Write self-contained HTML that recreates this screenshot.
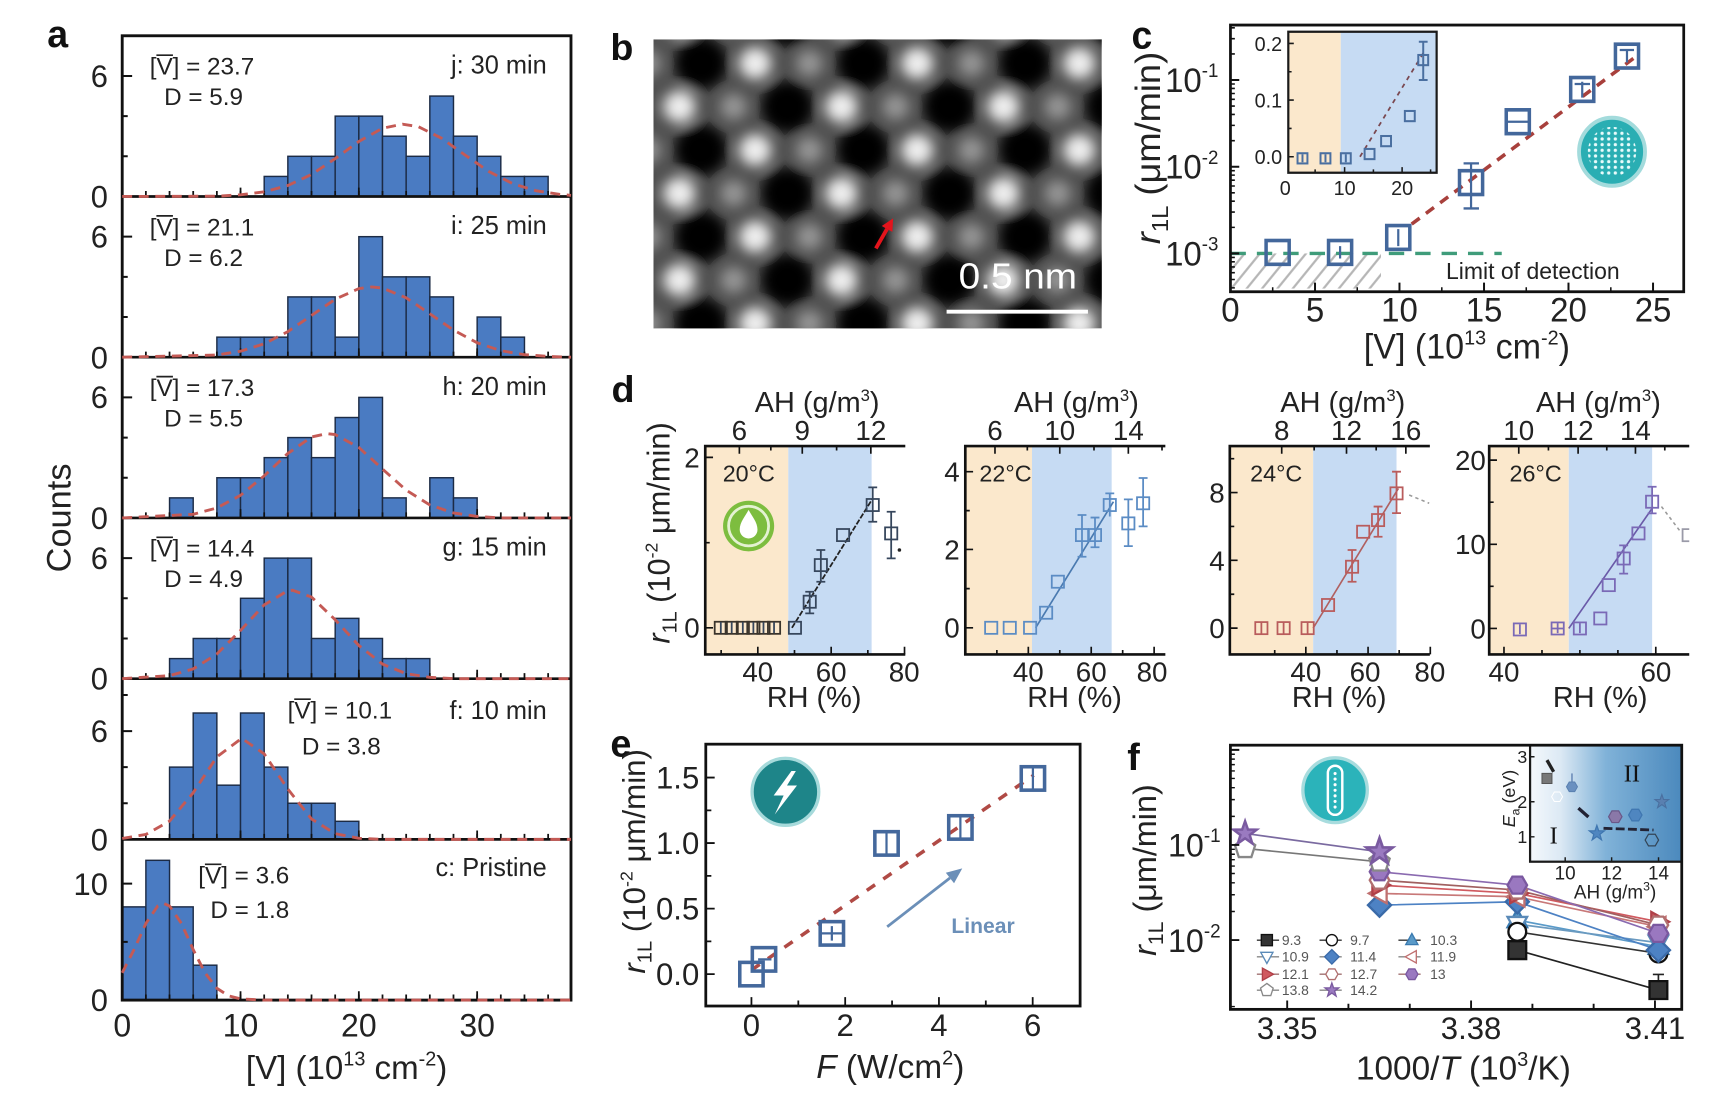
<!DOCTYPE html>
<html><head><meta charset="utf-8"><title>figure</title>
<style>html,body{margin:0;padding:0;background:#fff;overflow:hidden}svg{display:block}</style>
</head><body>
<svg xmlns="http://www.w3.org/2000/svg" width="1730" height="1114" viewBox="0 0 1550 998" font-family="'Liberation Sans', Arial, sans-serif" fill="#1a1a1a">
<defs>
<clipPath id="cb"><rect x="592" y="35" width="405" height="263"/></clipPath>
<clipPath id="cd4"><rect x="1341" y="403" width="180" height="190"/></clipPath>
<filter id="blr" x="-5%" y="-5%" width="110%" height="110%"><feGaussianBlur stdDeviation="6"/></filter>
<pattern id="hatch" patternUnits="userSpaceOnUse" width="10.7" height="10.7" patternTransform="rotate(40)"><line x1="2" y1="0" x2="2" y2="10.7" stroke="#b5b5b5" stroke-width="2"/></pattern>
<pattern id="dots" patternUnits="userSpaceOnUse" width="6" height="5" x="1452" y="110"><circle cx="3" cy="2.5" r="1.5" fill="#e8fbfb"/></pattern>
<linearGradient id="gf" x1="0" y1="0" x2="1" y2="0"><stop offset="0" stop-color="#f4f8fc"/><stop offset="0.2" stop-color="#dce9f4"/><stop offset="0.5" stop-color="#80b2d8"/><stop offset="1" stop-color="#4b89bd"/></linearGradient>
<path id="m_sq" d="M-5,-5h10v10h-10z"/>
<circle id="m_ci" r="5"/>
<path id="m_tu" d="M0,-6L5.5,4H-5.5Z"/>
<path id="m_td" d="M0,6L5.5,-4H-5.5Z"/>
<path id="m_tl" d="M-6,0L4,-5.5V5.5Z"/>
<path id="m_tr" d="M6,0L-4,-5.5V5.5Z"/>
<path id="m_di" d="M0,-6.5L6.5,0L0,6.5L-6.5,0Z"/>
<path id="m_hx" d="M5.5,0L2.75,4.76L-2.75,4.76L-5.5,0L-2.75,-4.76L2.75,-4.76Z"/>
<path id="m_pe" d="M0,-6L5.7,-1.85L3.53,4.85L-3.53,4.85L-5.7,-1.85Z"/>
<path id="m_st" d="M0,-6.5L1.53,-2.1L6.18,-2.01L2.47,0.8L3.82,5.26L0,2.6L-3.82,5.26L-2.47,0.8L-6.18,-2.01L-1.53,-2.1Z"/>
</defs>
<rect x="0" y="0" width="1550" height="998" fill="#fff"/>

<!-- ================= PANEL A ================= -->
<g transform="matrix(0.9879 0 0 0.9931 0.83 -2.76)">
<text x="42" y="45" font-size="34" font-weight="bold" fill="#111">a</text>
<g fill="#4a7bc2" stroke="#1c2b45" stroke-width="1.3">
<rect x="238.76" y="161.9" width="21.46" height="18.1"/>
<rect x="260.22" y="143.75" width="21.46" height="36.25"/>
<rect x="281.68" y="143.75" width="21.46" height="36.25"/>
<rect x="303.14" y="107.5" width="21.46" height="72.5"/>
<rect x="324.6" y="107.5" width="21.46" height="72.5"/>
<rect x="346.06" y="125.6" width="21.46" height="54.4"/>
<rect x="367.52" y="143.75" width="21.46" height="36.25"/>
<rect x="388.98" y="89.4" width="21.46" height="90.6"/>
<rect x="410.44" y="125.6" width="21.46" height="54.4"/>
<rect x="431.9" y="143.75" width="21.46" height="36.25"/>
<rect x="453.36" y="161.9" width="21.46" height="18.1"/>
<rect x="474.82" y="161.9" width="21.46" height="18.1"/>

<rect x="195.84" y="306.9" width="21.46" height="18.1"/>
<rect x="217.3" y="306.9" width="21.46" height="18.1"/>
<rect x="238.76" y="306.9" width="21.46" height="18.1"/>
<rect x="260.22" y="270.6" width="21.46" height="54.4"/>
<rect x="281.68" y="270.6" width="21.46" height="54.4"/>
<rect x="303.14" y="306.9" width="21.46" height="18.1"/>
<rect x="324.6" y="216.25" width="21.46" height="108.75"/>
<rect x="346.06" y="252.5" width="21.46" height="72.5"/>
<rect x="367.52" y="252.5" width="21.46" height="72.5"/>
<rect x="388.98" y="270.6" width="21.46" height="54.4"/>
<rect x="431.9" y="288.75" width="21.46" height="36.25"/>
<rect x="453.36" y="306.9" width="21.46" height="18.1"/>

<rect x="152.92" y="451.9" width="21.46" height="18.1"/>
<rect x="195.84" y="433.75" width="21.46" height="36.25"/>
<rect x="217.3" y="433.75" width="21.46" height="36.25"/>
<rect x="238.76" y="415.6" width="21.46" height="54.4"/>
<rect x="260.22" y="397.5" width="21.46" height="72.5"/>
<rect x="281.68" y="415.6" width="21.46" height="54.4"/>
<rect x="303.14" y="379.4" width="21.46" height="90.6"/>
<rect x="324.6" y="361.25" width="21.46" height="108.75"/>
<rect x="346.06" y="451.9" width="21.46" height="18.1"/>
<rect x="388.98" y="433.75" width="21.46" height="36.25"/>
<rect x="410.44" y="451.9" width="21.46" height="18.1"/>

<rect x="152.92" y="596.9" width="21.46" height="18.1"/>
<rect x="174.38" y="578.75" width="21.46" height="36.25"/>
<rect x="195.84" y="578.75" width="21.46" height="36.25"/>
<rect x="217.3" y="542.5" width="21.46" height="72.5"/>
<rect x="238.76" y="506.25" width="21.46" height="108.75"/>
<rect x="260.22" y="506.25" width="21.46" height="108.75"/>
<rect x="281.68" y="578.75" width="21.46" height="36.25"/>
<rect x="303.14" y="560.6" width="21.46" height="54.4"/>
<rect x="324.6" y="578.75" width="21.46" height="36.25"/>
<rect x="346.06" y="596.9" width="21.46" height="18.1"/>
<rect x="367.52" y="596.9" width="21.46" height="18.1"/>

<rect x="152.92" y="694.8" width="21.46" height="65.2"/>
<rect x="174.38" y="646" width="21.46" height="114"/>
<rect x="195.84" y="711.1" width="21.46" height="48.9"/>
<rect x="217.3" y="646" width="21.46" height="114"/>
<rect x="238.76" y="694.8" width="21.46" height="65.2"/>
<rect x="260.22" y="727.4" width="21.46" height="32.6"/>
<rect x="281.68" y="727.4" width="21.46" height="32.6"/>
<rect x="303.14" y="743.7" width="21.46" height="16.3"/>

<rect x="110" y="820.9" width="21.46" height="84.1"/>
<rect x="131.46" y="778.9" width="21.46" height="126.1"/>
<rect x="152.92" y="820.9" width="21.46" height="84.1"/>
<rect x="174.38" y="873.5" width="21.46" height="31.5"/>
</g>
<g fill="none" stroke="#111">
<rect x="110" y="35" width="407" height="870" stroke-width="2.6"/>
<path d="M110,180H517M110,325H517M110,470H517M110,615H517M110,760H517" stroke-width="2.4"/>
<g stroke-width="5" stroke-dasharray="1.6 19.86">
<line x1="109.2" y1="177.5" x2="517" y2="177.5"/>
<line x1="109.2" y1="322.5" x2="517" y2="322.5"/>
<line x1="109.2" y1="467.5" x2="517" y2="467.5"/>
<line x1="109.2" y1="612.5" x2="517" y2="612.5"/>
<line x1="109.2" y1="757.5" x2="517" y2="757.5"/>
<line x1="109.2" y1="902.5" x2="517" y2="902.5"/>
</g>
<g stroke-width="8" stroke-dasharray="1.6 105.7">
<line x1="109.2" y1="176" x2="517" y2="176"/>
<line x1="109.2" y1="321" x2="517" y2="321"/>
<line x1="109.2" y1="466" x2="517" y2="466"/>
<line x1="109.2" y1="611" x2="517" y2="611"/>
<line x1="109.2" y1="756" x2="517" y2="756"/>
<line x1="109.2" y1="901" x2="517" y2="901"/>
</g>
<path stroke-width="1.8" d="M110,143.75h5M110,107.5h5M110,71.25h9M110,288.75h5M110,252.5h5M110,216.25h9M110,433.75h5M110,397.5h5M110,361.25h9M110,578.75h5M110,542.5h5M110,506.25h9M110,727.4h5M110,694.8h5M110,662.3h9M110,629.7h5M110,852.5h5M110,799.9h9"/>
</g>
<g fill="none" stroke="#c45a55" stroke-width="2.6" stroke-dasharray="9 6">
<polyline points="110,180 195.8,179.7 217.3,178.5 238.8,175.8 260.2,170.1 281.7,160.1 303.1,145.9 324.6,130.4 346.1,118.4 364.3,114.75 378.3,116.9 399.7,127.5 421.2,142.8 442.6,157.5 464.1,168.4 485.6,174.9 507,178.1 517,179"/>
<polyline points="110,325 195.8,323 217.3,319.6 238.8,312.9 260.2,301.9 281.7,287.3 303.1,272.7 324.6,263.1 336.4,261.6 346.1,262.6 367.5,271.4 389,285.8 410.4,300.5 431.9,312 453.4,319.1 474.8,322.7 496.3,324.3 517,325"/>
<polyline points="110,470 174.4,466.7 195.8,461 217.3,449.6 238.8,432 260.2,411.8 281.7,397 295.6,393.9 303.1,394.8 324.6,406.4 346.1,425.9 367.5,444.9 389,458.3 410.4,465.5 431.9,468.6 453.4,470 517,470"/>
<polyline points="110,615 152.9,612.3 174.4,606.2 195.8,592.8 217.3,571.5 238.8,548.4 260.2,535.6 264.5,535.25 281.7,541.4 303.1,561.8 324.6,585.1 346.1,601.9 367.5,610.5 389,613.8 410.4,615 517,615"/>
<polyline points="110,759.2 131.5,755.5 152.9,743.5 174.4,717.9 195.8,685.6 218.4,668.8 238.8,682.9 260.2,714.6 281.7,741.6 303.1,754.8 324.6,759 346.1,760 517,760"/>
<polyline points="110,880.4 120.7,859.5 131.5,835.8 142.2,820.1 147.6,817.8 152.9,820.1 163.7,835.8 174.4,859.5 185.1,880.4 195.8,894.3 206.6,901.2 217.3,903.9 238.8,905 517,905"/>
</g>
<g font-size="28" text-anchor="end" fill="#222">
<text x="97" y="81">6</text><text x="97" y="190">0</text>
<text x="97" y="226">6</text><text x="97" y="335">0</text>
<text x="97" y="371">6</text><text x="97" y="480">0</text>
<text x="97" y="516">6</text><text x="97" y="625">0</text>
<text x="97" y="672">6</text><text x="97" y="770">0</text>
<text x="97" y="810">10</text><text x="97" y="915">0</text>
</g>
<g font-size="29" text-anchor="middle" fill="#222">
<text x="110" y="938">0</text><text x="217.3" y="938">10</text><text x="324.6" y="938">20</text><text x="431.9" y="938">30</text>
</g>
<text x="313.5" y="976" text-anchor="middle" font-size="30" fill="#222">[V] (10<tspan font-size="18" dy="-12">13</tspan><tspan dy="12"> cm</tspan><tspan font-size="18" dy="-12">-2</tspan><tspan dy="12">)</tspan></text>
<text transform="translate(63,470) rotate(-90)" text-anchor="middle" font-size="31" fill="#222">Counts</text>
<g font-size="22" fill="#222">
<text x="135" y="70">[V] = 23.7</text><text x="148" y="97.5">D = 5.9</text>
<text x="135" y="215">[V] = 21.1</text><text x="148" y="242.5">D = 6.2</text>
<text x="135" y="360">[V] = 17.3</text><text x="148" y="387.5">D = 5.5</text>
<text x="135" y="505">[V] = 14.4</text><text x="148" y="532.5">D = 4.9</text>
<text x="260" y="651">[V] = 10.1</text><text x="273" y="683.5">D = 3.8</text>
<text x="179" y="800">[V] = 3.6</text><text x="190" y="831">D = 1.8</text>
</g>
<path d="M141,52.5H156M141,197.5H156M141,342.5H156M141,487.5H156M266,633.5H281M185,782.5H200" stroke="#222" stroke-width="1.5" fill="none"/>
<g font-size="23" text-anchor="end" fill="#222">
<text x="495" y="69">j: 30 min</text>
<text x="495" y="214">i: 25 min</text>
<text x="495" y="359">h: 20 min</text>
<text x="495" y="504">g: 15 min</text>
<text x="495" y="651.5">f: 10 min</text>
<text x="495" y="793">c: Pristine</text>
</g>
</g>

<!-- ================= PANEL B ================= -->
<g transform="matrix(0.9917 0 0 0.9848 -1.59 0.73)">
<text x="553" y="54" font-size="34" font-weight="bold" fill="#111">b</text>
<g clip-path="url(#cb)">
<rect x="592" y="35" width="405" height="263" fill="#505050"/>
<g filter="url(#blr)">
<g fill="#030303">
<circle cx="635" cy="56.8" r="24"/><circle cx="781.4" cy="56.8" r="24"/><circle cx="927.8" cy="56.8" r="24"/>
<circle cx="635" cy="135.7" r="24"/><circle cx="781.4" cy="135.7" r="24"/><circle cx="927.8" cy="135.7" r="24"/>
<circle cx="635" cy="214.6" r="24"/><circle cx="781.4" cy="214.6" r="24"/><circle cx="927.8" cy="214.6" r="24"/>
<circle cx="635" cy="293.4" r="24"/><circle cx="781.4" cy="293.4" r="24"/><circle cx="927.8" cy="293.4" r="24"/>
<circle cx="566.5" cy="17.4" r="24"/><circle cx="712.9" cy="17.4" r="24"/><circle cx="859.3" cy="17.4" r="24"/><circle cx="1005.7" cy="17.4" r="24"/>
<circle cx="566.5" cy="96.3" r="24"/><circle cx="712.9" cy="96.3" r="24"/><circle cx="859.3" cy="96.3" r="24"/><circle cx="1005.7" cy="96.3" r="24"/>
<circle cx="566.5" cy="175.1" r="24"/><circle cx="712.9" cy="175.1" r="24"/><circle cx="859.3" cy="175.1" r="24"/><circle cx="1005.7" cy="175.1" r="24"/>
<circle cx="566.5" cy="254" r="24"/><circle cx="712.9" cy="254" r="24"/><circle cx="859.3" cy="254" r="24"/><circle cx="1005.7" cy="254" r="24"/>
</g>
<g fill="#959595">
<circle cx="586.4" cy="56.8" r="12"/><circle cx="732.8" cy="56.8" r="12"/><circle cx="879.2" cy="56.8" r="12"/>
<circle cx="586.4" cy="135.7" r="12"/><circle cx="732.8" cy="135.7" r="12"/><circle cx="879.2" cy="135.7" r="12"/>
<circle cx="586.4" cy="214.6" r="12"/><circle cx="732.8" cy="214.6" r="12"/><circle cx="879.2" cy="214.6" r="12"/>
<circle cx="586.4" cy="293.4" r="12"/><circle cx="732.8" cy="293.4" r="12"/><circle cx="879.2" cy="293.4" r="12"/>
<circle cx="664.3" cy="17.4" r="12"/><circle cx="810.7" cy="17.4" r="12"/><circle cx="957.1" cy="17.4" r="12"/>
<circle cx="664.3" cy="96.3" r="12"/><circle cx="810.7" cy="96.3" r="12"/><circle cx="957.1" cy="96.3" r="12"/>
<circle cx="664.3" cy="175.1" r="12"/><circle cx="810.7" cy="175.1" r="12"/><circle cx="957.1" cy="175.1" r="12"/>
<circle cx="664.3" cy="254" r="12"/><circle cx="810.7" cy="254" r="12"/><circle cx="957.1" cy="254" r="12"/>
</g>
<g fill="#eeeeee">
<circle cx="683.9" cy="56.8" r="14.5"/><circle cx="830.3" cy="56.8" r="14.5"/><circle cx="976.7" cy="56.8" r="14.5"/>
<circle cx="683.9" cy="135.7" r="14.5"/><circle cx="830.3" cy="135.7" r="14.5"/><circle cx="976.7" cy="135.7" r="14.5"/>
<circle cx="683.9" cy="214.6" r="14.5"/><circle cx="830.3" cy="214.6" r="14.5"/><circle cx="976.7" cy="214.6" r="14.5"/>
<circle cx="683.9" cy="293.4" r="14.5"/><circle cx="830.3" cy="293.4" r="14.5"/><circle cx="976.7" cy="293.4" r="14.5"/>
<circle cx="615.4" cy="17.4" r="14.5"/><circle cx="761.8" cy="17.4" r="14.5"/><circle cx="908.2" cy="17.4" r="14.5"/>
<circle cx="615.4" cy="96.3" r="14.5"/><circle cx="761.8" cy="96.3" r="14.5"/><circle cx="908.2" cy="96.3" r="14.5"/>
<circle cx="615.4" cy="175.1" r="14.5"/><circle cx="761.8" cy="175.1" r="14.5"/><circle cx="908.2" cy="175.1" r="14.5"/>
<circle cx="615.4" cy="254" r="14.5"/><circle cx="761.8" cy="254" r="14.5"/><circle cx="908.2" cy="254" r="14.5"/>
</g>
</g>
</g>
<line x1="792.9" y1="225.2" x2="803" y2="207.5" stroke="#e3141c" stroke-width="3.5"/>
<path d="M808.5,197.9L807.8,210.2L798.2,204.8Z" fill="#e3141c"/>
<line x1="856.8" y1="282.8" x2="984.5" y2="282.8" stroke="#fff" stroke-width="3.5"/>
<text x="867.7" y="261.6" font-size="33" fill="#fff" textLength="107" lengthAdjust="spacingAndGlyphs">0.5 nm</text>
</g>

<!-- ================= PANEL C ================= -->
<g transform="matrix(0.9852 0 0 1.0155 7.88 -5.02)">
<text x="1021" y="47.6" font-size="34" font-weight="bold" fill="#111">c</text>
<rect x="1111" y="228.5" width="136.9" height="31" fill="url(#hatch)"/>
<line x1="1111" y1="228.5" x2="1357.7" y2="228.5" stroke="#3f9c7a" stroke-width="3" stroke-dasharray="14 10"/>
<line x1="1275.8" y1="202.6" x2="1479.6" y2="54.9" stroke="#a8403c" stroke-width="3.2" stroke-dasharray="9 7"/>
<g fill="none" stroke="#43679b" stroke-width="3.2">
<rect x="1143.4" y="217.1" width="21" height="21"/>
<rect x="1200.2" y="217.1" width="21" height="21"/>
<rect x="1253.1" y="203.9" width="21" height="21"/>
<rect x="1319.3" y="155.5" width="21" height="21"/>
<rect x="1361.8" y="101.8" width="21" height="21"/>
<rect x="1420.4" y="73.3" width="21" height="21"/>
<rect x="1461.1" y="43.9" width="21" height="21"/>
<path stroke-width="2" d="M1210.7,222v11M1263.6,207v15M1329.8,149V188.8M1323,149h14M1323,188.8h14M1363,112.3h19M1430.9,77v14M1424,79h14M1471.6,48v12M1465,49h13"/>
</g>
<text x="1307" y="251" font-size="20" fill="#222" textLength="158" lengthAdjust="spacingAndGlyphs">Limit of detection</text>
<circle cx="1458" cy="138.8" r="30" fill="#2aaeb3" stroke="#a3dbdc" stroke-width="3.5"/>
<circle cx="1458" cy="138.8" r="22" fill="url(#dots)"/>
<rect x="1163.6" y="32.9" width="47.7" height="124.4" fill="#fbe8cc"/>
<rect x="1211.3" y="32.9" width="87.2" height="124.4" fill="#c6dbf3"/>
<rect x="1163.6" y="32.9" width="134.9" height="124.4" fill="none" stroke="#1a1a1a" stroke-width="2"/>
<path d="M1163.6,143.2h5M1163.6,93.2h5M1163.6,43.2h5M1163.6,118.2h3M1163.6,68.2h3M1214.8,157.3v-5M1267.1,157.3v-5M1188,157.3v-3M1241,157.3v-3M1293,157.3v-3" stroke="#1a1a1a" stroke-width="1.4" fill="none"/>
<line x1="1228.8" y1="143.2" x2="1288" y2="49.1" stroke="#7a4850" stroke-width="1.6" stroke-dasharray="4 4"/>
<g fill="none" stroke="#4a6fa0" stroke-width="1.8">
<rect x="1172" y="140.1" width="9" height="9"/>
<rect x="1192.9" y="140.1" width="9" height="9"/>
<rect x="1211.4" y="140.1" width="9" height="9"/>
<rect x="1233" y="136.3" width="9" height="9"/>
<rect x="1248" y="124.9" width="9" height="9"/>
<rect x="1269.6" y="102.8" width="9" height="9"/>
<rect x="1281.8" y="53.4" width="9" height="9"/>
<path d="M1286.3,41.7V75.5M1282.3,41.7h8M1282.3,75.5h8M1176.5,141v7M1197.4,141v7M1215.9,141v7"/>
</g>
<g font-size="18" fill="#222" text-anchor="end">
<text x="1158" y="49.7">0.2</text><text x="1158" y="99.7">0.1</text><text x="1158" y="149.7">0.0</text>
</g>
<g font-size="18" fill="#222" text-anchor="middle">
<text x="1160.8" y="177">0</text><text x="1214.8" y="177">10</text><text x="1267.1" y="177">20</text>
</g>
<g fill="none" stroke="#111">
<rect x="1111" y="27" width="412.2" height="235.3" stroke-width="2.5"/>
<path stroke-width="1.8" d="M1111,228.5h8M1111,152h8M1111,75.5h8M1187.9,262.3v-8M1264.7,262.3v-8M1341.6,262.3v-8M1418.4,262.3v-8M1495.3,262.3v-8"/>
<path stroke-width="1.4" d="M1111,258.9h4M1111,251.5h4M1111,245.5h4M1111,240.4h4M1111,235.9h4M1111,232h4M1111,205.5h4M1111,192h4M1111,182.4h4M1111,175h4M1111,169h4M1111,163.9h4M1111,159.4h4M1111,155.5h4M1111,129h4M1111,115.5h4M1111,105.9h4M1111,98.5h4M1111,92.5h4M1111,87.4h4M1111,82.9h4M1111,79h4M1111,52.5h4M1111,39h4M1111,29.4h4M1149.4,262.3v-4M1226.3,262.3v-4M1303.2,262.3v-4M1380,262.3v-4M1456.9,262.3v-4"/>
</g>
<g font-size="30" fill="#222" text-anchor="end">
<text x="1100" y="86">10<tspan dy="-13" font-size="17">-1</tspan></text>
<text x="1100" y="162.5">10<tspan dy="-13" font-size="17">-2</tspan></text>
<text x="1100" y="239">10<tspan dy="-13" font-size="17">-3</tspan></text>
</g>
<g font-size="30" fill="#222" text-anchor="middle">
<text x="1111" y="288.5">0</text><text x="1187.9" y="288.5">5</text><text x="1264.7" y="288.5">10</text><text x="1341.6" y="288.5">15</text><text x="1418.4" y="288.5">20</text><text x="1495.3" y="288.5">25</text>
</g>
<text x="1326" y="321" text-anchor="middle" font-size="31" fill="#222">[V] (10<tspan font-size="18" dy="-12">13</tspan><tspan dy="12"> cm</tspan><tspan font-size="18" dy="-12">-2</tspan><tspan dy="12">)</tspan></text>
<text transform="translate(1047,135.5) rotate(-90)" text-anchor="middle" font-size="32" fill="#222"><tspan font-style="italic">r</tspan><tspan font-size="21" dy="7">1L</tspan><tspan dy="-7"> (μm/min)</tspan></text>
</g>

<!-- ================= PANEL D (1,2) ================= -->
<g transform="matrix(0.9957 0 0 0.9857 -3.38 2.36)">
<text x="553.7" y="363" font-size="34" font-weight="bold" fill="#111">d</text>
<text transform="translate(606,482) rotate(-90)" text-anchor="middle" font-size="28" fill="#222"><tspan font-style="italic">r</tspan><tspan font-size="18" dy="6">1L</tspan><tspan dy="-6"> (10</tspan><tspan font-size="16" dy="-11">-2</tspan><tspan dy="11"> μm/min)</tspan></text>
<!-- d1 -->
<rect x="638" y="403" width="74.7" height="189.4" fill="#fbe8cc"/>
<rect x="712.7" y="403" width="75" height="189.4" fill="#c6dbf3"/>
<circle cx="677" cy="475.7" r="23" fill="#7dbd3f"/>
<circle cx="677" cy="475.7" r="18" fill="none" stroke="#e4f2d2" stroke-width="2.5"/>
<path d="M677,461 C680,467 685,472 685,479 A8,8 0 0 1 669,479 C669,472 674,467 677,461Z" fill="#fff"/>
<line x1="716" y1="568.2" x2="788.7" y2="450.6" stroke="#222" stroke-width="1.6" stroke-dasharray="5 1.5"/>
<g fill="none" stroke="#3a342c" stroke-width="1.6">
<rect x="646.5" y="562.7" width="11" height="11"/><rect x="656.3" y="562.7" width="11" height="11"/><rect x="666.3" y="562.7" width="11" height="11"/><rect x="675.8" y="562.7" width="11" height="11"/><rect x="684.9" y="562.7" width="11" height="11"/><rect x="694.4" y="562.7" width="11" height="11"/>
<g stroke="#36465c"><rect x="713.2" y="562.7" width="11" height="11"/>
<rect x="726.5" y="539" width="11" height="11"/>
<rect x="736.5" y="505.7" width="11" height="11"/>
<rect x="756.5" y="478.4" width="11" height="11"/>
<rect x="783.2" y="451.1" width="11" height="11"/>
<rect x="799.8" y="476.9" width="11" height="11"/>
<path d="M732,535.4V555.1M728,535.4h8M728,555.1h8M742,497.5V526.3M738,497.5h8M738,526.3h8M788.7,440.6V471.8M784.7,440.6h8M784.7,471.8h8M805.3,462.7V505.1M801.3,462.7h8M801.3,505.1h8M652,563v10M661.8,563v10M671.8,563v10M681.3,563v10M690.4,563v10M699.9,563v10"/></g>
</g>
<circle cx="812.7" cy="497.5" r="1.6" fill="#222"/>
<path d="M818,403H638V592.4H818" fill="none" stroke="#111" stroke-width="2.4"/>
<path d="M638,568.2h7M638,413.3h7M638,490.8h4M685.3,592.4v-7M751.3,592.4v-7M817.3,592.4v-7M652.3,592.4v-4M718.3,592.4v-4M784.3,592.4v-4M668.7,403v7M725.3,403v7M787,403v7M697,403v4M756.2,403v4" fill="none" stroke="#111" stroke-width="1.5"/>
<text x="653.7" y="435" font-size="21" fill="#222">20°C</text>
<g font-size="25" fill="#222" text-anchor="end"><text x="633" y="422.3">2</text><text x="633" y="577.2">0</text></g>
<g font-size="25" fill="#222" text-anchor="middle">
<text x="685.3" y="617">40</text><text x="751.3" y="617">60</text><text x="817" y="617">80</text>
<text x="668.7" y="397.5">6</text><text x="725.3" y="397.5">9</text><text x="787" y="397.5">12</text>
<text x="736" y="640" font-size="26">RH (%)</text>
<text x="738.7" y="372" font-size="26">AH (g/m<tspan font-size="15" dy="-10">3</tspan><tspan dy="10">)</tspan></text>
</g>
<!-- d2 -->
<rect x="872" y="403" width="60" height="189.4" fill="#fbe8cc"/>
<rect x="932" y="403" width="71.7" height="189.4" fill="#c6dbf3"/>
<line x1="935.3" y1="568.2" x2="1005.3" y2="453.6" stroke="#4a7ab0" stroke-width="1.5"/>
<g fill="none" stroke="#5b8cc4" stroke-width="1.6">
<rect x="889.8" y="562.7" width="11" height="11"/><rect x="906.5" y="562.7" width="11" height="11"/><rect x="924.8" y="562.7" width="11" height="11"/>
<rect x="939.2" y="549" width="11" height="11"/>
<rect x="949.8" y="520.8" width="11" height="11"/>
<rect x="971.5" y="478.4" width="11" height="11"/>
<rect x="983.2" y="478.4" width="11" height="11"/>
<rect x="996.5" y="451.1" width="11" height="11"/>
<rect x="1013.2" y="467.8" width="11" height="11"/>
<rect x="1026.5" y="449.5" width="11" height="11"/>
<path d="M977,465.7V503.6M973,465.7h8M973,503.6h8M988.7,468V495M984.7,468h8M984.7,495h8M1002,446V467M998,446h8M1018.7,451.5V494M1014.7,451.5h8M1014.7,494h8M1032,432V476M1028,432h8M1028,476h8"/>
</g>
<path d="M1052,403H872V592.4H1052" fill="none" stroke="#111" stroke-width="2.4"/>
<path d="M872,568.2h7M872,497h7M872,426.3h7M872,532.6h4M872,461.7h4M928.7,592.4v-7M985.3,592.4v-7M1041.9,592.4v-7M900.4,592.4v-4M957,592.4v-4M1013.6,592.4v-4M898.7,403v7M957,403v7M1018.7,403v7M927.8,403v4M987.8,403v4M1049,403v4" fill="none" stroke="#111" stroke-width="1.5"/>
<text x="884.7" y="435" font-size="21" fill="#222">22°C</text>
<g font-size="25" fill="#222" text-anchor="end"><text x="867" y="435.3">4</text><text x="867" y="506">2</text><text x="867" y="577.2">0</text></g>
<g font-size="25" fill="#222" text-anchor="middle">
<text x="928.7" y="617">40</text><text x="985.3" y="617">60</text><text x="1040" y="617">80</text>
<text x="898.7" y="397.5">6</text><text x="957" y="397.5">10</text><text x="1018.7" y="397.5">14</text>
<text x="970.3" y="640" font-size="26">RH (%)</text>
<text x="972" y="372" font-size="26">AH (g/m<tspan font-size="15" dy="-10">3</tspan><tspan dy="10">)</tspan></text>
</g>
</g>

<!-- ================= PANEL D (3,4) ================= -->
<g transform="matrix(0.9957 0 0 0.9857 -0.98 2.36)">
<!-- d3 -->
<rect x="1107.6" y="403" width="75" height="189.4" fill="#fbe8cc"/>
<rect x="1182.6" y="403" width="75" height="189.4" fill="#c6dbf3"/>
<line x1="1182.6" y1="568.5" x2="1259.3" y2="441.5" stroke="#b06060" stroke-width="1.5"/>
<line x1="1269" y1="447.5" x2="1287" y2="455" stroke="#999" stroke-width="1.4" stroke-dasharray="3 3"/>
<g fill="none" stroke="#b95c5c" stroke-width="1.6">
<rect x="1130.5" y="563" width="11" height="11"/><rect x="1150.5" y="563" width="11" height="11"/><rect x="1172.1" y="563" width="11" height="11"/>
<rect x="1190.5" y="542" width="11" height="11"/>
<rect x="1212.1" y="507.2" width="11" height="11"/>
<rect x="1222.1" y="475.4" width="11" height="11"/>
<rect x="1235.5" y="464.8" width="11" height="11"/>
<rect x="1252.1" y="440.5" width="11" height="11"/>
<path d="M1217.6,497.5V526.3M1213.6,497.5h8M1213.6,526.3h8M1241,458V485.4M1237,458h8M1237,485.4h8M1257.6,426.3V464M1253.6,426.3h8M1253.6,464h8M1136,563v11M1156,563v11M1177.6,563v11"/>
</g>
<path d="M1287.6,403H1107.6V592.4H1287.6" fill="none" stroke="#111" stroke-width="2.4"/>
<path d="M1107.6,568.5h7M1107.6,506.9h7M1107.6,445.3h7M1107.6,537.7h4M1107.6,476.1h4M1107.6,414.5h4M1176,592.4v-7M1232,592.4v-7M1288,592.4v-7M1148,592.4v-4M1204,592.4v-4M1260,592.4v-4M1154.3,403v7M1212.6,403v7M1266,403v7M1183.5,403v4M1239.3,403v4" fill="none" stroke="#111" stroke-width="1.5"/>
<text x="1125.9" y="435" font-size="21" fill="#222">24°C</text>
<g font-size="25" fill="#222" text-anchor="end"><text x="1103" y="454.4">8</text><text x="1103" y="516">4</text><text x="1103" y="577.5">0</text></g>
<g font-size="25" fill="#222" text-anchor="middle">
<text x="1176" y="617">40</text><text x="1229.3" y="617">60</text><text x="1287.6" y="617">80</text>
<text x="1154.3" y="397.5">8</text><text x="1212.6" y="397.5">12</text><text x="1266" y="397.5">16</text>
<text x="1206" y="640" font-size="26">RH (%)</text>
<text x="1209.3" y="372" font-size="26">AH (g/m<tspan font-size="15" dy="-10">3</tspan><tspan dy="10">)</tspan></text>
</g>
<!-- d4 -->
<rect x="1341" y="403" width="71.6" height="189.4" fill="#fbe8cc"/>
<rect x="1412.6" y="403" width="75" height="189.4" fill="#c6dbf3"/>
<line x1="1412.6" y1="568.8" x2="1488.6" y2="458.2" stroke="#6a5aa8" stroke-width="1.5"/>
<g clip-path="url(#cd4)">
<line x1="1496" y1="458" x2="1514" y2="482" stroke="#999" stroke-width="1.4" stroke-dasharray="3 3"/>
<rect x="1515" y="478.5" width="11" height="11" fill="none" stroke="#9a9aa8" stroke-width="1.6"/>
</g>
<g fill="none" stroke="#7a69b6" stroke-width="1.6">
<rect x="1363.1" y="564.2" width="11" height="11"/>
<rect x="1397.1" y="563.3" width="11" height="11"/>
<rect x="1417.1" y="563.3" width="11" height="11"/>
<rect x="1435.5" y="554.2" width="11" height="11"/>
<rect x="1443.1" y="523.9" width="11" height="11"/>
<rect x="1456.5" y="499.7" width="11" height="11"/>
<rect x="1469.8" y="476.9" width="11" height="11"/>
<rect x="1482.1" y="448.1" width="11" height="11"/>
<path d="M1462,493.3V519M1458,493.3h8M1458,519h8M1487.6,440V464.2M1483.6,440h8M1483.6,464.2h8M1368.6,565v9M1402.6,564v9M1422.6,564v9M1397.1,568.8h11"/>
</g>
<path d="M1521,403H1341V592.4H1521" fill="none" stroke="#111" stroke-width="2.4"/>
<path d="M1341,568.8h7M1341,492.3h7M1341,415.8h7M1341,530.5h4M1341,454h4M1354.3,592.4v-7M1490.9,592.4v-7M1422.6,592.4v-4M1388.5,592.4v-4M1456.8,592.4v-4M1367.6,403v7M1421,403v7M1472.6,403v7M1394.3,403v4M1446.8,403v4M1499,403v4" fill="none" stroke="#111" stroke-width="1.5"/>
<text x="1359.3" y="435" font-size="21" fill="#222">26°C</text>
<g font-size="25" fill="#222" text-anchor="end"><text x="1338" y="424.8">20</text><text x="1338" y="501.3">10</text><text x="1338" y="577.8">0</text></g>
<g font-size="25" fill="#222" text-anchor="middle">
<text x="1354.3" y="617">40</text><text x="1491" y="617">60</text>
<text x="1367.6" y="397.5">10</text><text x="1421" y="397.5">12</text><text x="1472.6" y="397.5">14</text>
<text x="1440.9" y="640" font-size="26">RH (%)</text>
<text x="1439.3" y="372" font-size="26">AH (g/m<tspan font-size="15" dy="-10">3</tspan><tspan dy="10">)</tspan></text>
</g>
</g>

<!-- ================= PANEL E ================= -->
<g transform="matrix(0.9952 0 0 1 -3.48 -8.3)">
<text x="553" y="686" font-size="34" font-weight="bold" fill="#111">e</text>
<circle cx="710.6" cy="717.7" r="30" fill="#1e8589" stroke="#a6dadb" stroke-width="3"/>
<path d="M716,699 L700,721 L709,721 L701,738 L721,712 L712,712 L720,699 Z" fill="#fff"/>
<line x1="680" y1="877.4" x2="934.1" y2="702.8" stroke="#b04a45" stroke-width="3.2" stroke-dasharray="9 9"/>
<line x1="802.2" y1="838.6" x2="858.7" y2="794.9" stroke="#6b8fb8" stroke-width="2.5"/>
<path d="M869.8,786.3L862.4,799.6L855,790.2Z" fill="#6b8fb8"/>
<text x="860" y="844" font-size="19" font-weight="bold" fill="#6b8fb8">Linear</text>
<g fill="none" stroke="#44689c" stroke-width="3.2">
<rect x="669.5" y="870.5" width="21" height="21"/>
<rect x="680.8" y="857.3" width="21" height="21"/>
<rect x="741.9" y="834" width="21" height="21"/>
<rect x="791.1" y="753.4" width="21" height="21"/>
<rect x="857.6" y="739.1" width="21" height="21"/>
<rect x="922.9" y="695.2" width="21" height="21"/>
<path stroke-width="2" d="M741.9,844.5h21M752.4,838v13M801.6,753.4v21M868.1,739.1v21M933.4,695.2v21M686,867.8h12"/>
</g>
<g fill="none" stroke="#111">
<rect x="638.9" y="675" width="337" height="234.6" stroke-width="2.5"/>
<path stroke-width="1.6" d="M638.9,881h8M638.9,822.3h8M638.9,763.6h8M638.9,704.9h8M638.9,851.7h5M638.9,793h5M638.9,734.3h5M680,909.6v-8M764.4,909.6v-8M848.8,909.6v-8M933.2,909.6v-8M722.2,909.6v-5M806.6,909.6v-5M891,909.6v-5"/>
</g>
<g font-size="28" fill="#222" text-anchor="end">
<text x="633" y="891">0.0</text><text x="633" y="832.3">0.5</text><text x="633" y="773.6">1.0</text><text x="633" y="714.9">1.5</text>
</g>
<g font-size="28" fill="#222" text-anchor="middle">
<text x="680" y="936.5">0</text><text x="764.4" y="936.5">2</text><text x="848.8" y="936.5">4</text><text x="933.2" y="936.5">6</text>
</g>
<text x="805" y="974" text-anchor="middle" font-size="30" fill="#222"><tspan font-style="italic">F</tspan> (W/cm<tspan font-size="18" dy="-12">2</tspan><tspan dy="12">)</tspan></text>
<text transform="translate(584,780) rotate(-90)" text-anchor="middle" font-size="28" fill="#222"><tspan font-style="italic">r</tspan><tspan font-size="18" dy="6">1L</tspan><tspan dy="-6"> (10</tspan><tspan font-size="16" dy="-11">-2</tspan><tspan dy="11"> μm/min)</tspan></text>
</g>

<!-- ================= PANEL F ================= -->
<g transform="matrix(0.9955 0 0 1 1.57 -7)">
<text x="1013" y="697" font-size="34" font-weight="bold" fill="#111">f</text>
<circle cx="1200" cy="714.9" r="29" fill="#2bb3ba" stroke="#a8dcde" stroke-width="3"/>
<rect x="1193.5" y="693" width="13" height="44" rx="6.5" fill="none" stroke="#fff" stroke-width="2.2"/>
<g fill="#fff"><circle cx="1200" cy="700" r="1.4"/><circle cx="1200" cy="705" r="1.4"/><circle cx="1200" cy="710" r="1.4"/><circle cx="1200" cy="715" r="1.4"/><circle cx="1200" cy="720" r="1.4"/><circle cx="1200" cy="725" r="1.4"/><circle cx="1200" cy="730" r="1.4"/></g>
<!-- series lines -->
<g fill="none" stroke-width="1.5">
<polyline points="1364,858.2 1491,894" stroke="#222"/>
<polyline points="1364,841.8 1491,861.2" stroke="#333"/>
<polyline points="1364,831.3 1491,855.2" stroke="#5a9ac8"/>
<polyline points="1364,834.9 1491,851.6" stroke="#6a9ac0"/>
<polyline points="1240,817.9 1364,814.9 1491,858.2" stroke="#4d82c4"/>
<polyline points="1240,807.4 1364,810.4 1491,837.3" stroke="#c87878"/>
<polyline points="1240,800 1364,807.4 1491,832.8" stroke="#d05a60"/>
<polyline points="1240,795.5 1364,804.4 1491,835.8" stroke="#a06060"/>
<polyline points="1240,788 1364,800 1491,843.2" stroke="#8a6ab0"/>
<polyline points="1119,767.1 1240,779.1" stroke="#777"/>
<polyline points="1119,753.7 1240,770.1" stroke="#7a6aa0"/>
</g>
<path d="M1491,894V880M1486,880h10M1491,861.2V870" stroke="#222" stroke-width="1.5" fill="none"/>
<!-- markers -->
<g stroke-width="1.3">
<use href="#m_tu" transform="translate(1364,831.3) scale(1.6)" fill="#5a9ac8" stroke="#3a7ab0"/>
<use href="#m_td" transform="translate(1364,834.9) scale(1.6)" fill="#fff" stroke="#5a8ab8"/>
<use href="#m_ci" transform="translate(1364,841.8) scale(1.6)" fill="#fff" stroke="#111"/>
<use href="#m_sq" transform="translate(1364,858.2) scale(1.6)" fill="#333" stroke="#111"/>
<use href="#m_tu" transform="translate(1491,855.2) scale(1.6)" fill="#5a9ac8" stroke="#3a7ab0"/>
<use href="#m_td" transform="translate(1491,851.6) scale(1.6)" fill="#fff" stroke="#5a8ab8"/>
<use href="#m_ci" transform="translate(1491,861.2) scale(1.6)" fill="#fff" stroke="#111"/>
<use href="#m_sq" transform="translate(1491,894) scale(1.6)" fill="#333" stroke="#111"/>
<use href="#m_di" transform="translate(1240,817.9) scale(1.6)" fill="#4d82c4" stroke="#3a6aa8"/>
<use href="#m_di" transform="translate(1364,814.9) scale(1.6)" fill="#4d82c4" stroke="#3a6aa8"/>
<use href="#m_di" transform="translate(1491,858.2) scale(1.6)" fill="#4d82c4" stroke="#3a6aa8"/>
<use href="#m_tl" transform="translate(1240,807.4) scale(1.6)" fill="#fff" stroke="#c07070"/>
<use href="#m_tl" transform="translate(1364,810.4) scale(1.6)" fill="#fff" stroke="#c07070"/>
<use href="#m_tl" transform="translate(1491,837.3) scale(1.6)" fill="#fff" stroke="#c07070"/>
<use href="#m_tr" transform="translate(1240,800) scale(1.6)" fill="#d05a60" stroke="#b04048"/>
<use href="#m_tr" transform="translate(1364,807.4) scale(1.6)" fill="#d05a60" stroke="#b04048"/>
<use href="#m_tr" transform="translate(1491,832.8) scale(1.6)" fill="#d05a60" stroke="#b04048"/>
<use href="#m_hx" transform="translate(1240,795.5) scale(1.6)" fill="#fff" stroke="#b07070"/>
<use href="#m_hx" transform="translate(1364,804.4) scale(1.6)" fill="#fff" stroke="#b07070"/>
<use href="#m_hx" transform="translate(1491,835.8) scale(1.6)" fill="#fff" stroke="#b07070"/>
<use href="#m_hx" transform="translate(1240,788) scale(1.6)" fill="#9a78c0" stroke="#7a58a0"/>
<use href="#m_hx" transform="translate(1364,800) scale(1.6)" fill="#9a78c0" stroke="#7a58a0"/>
<use href="#m_hx" transform="translate(1491,843.2) scale(1.6)" fill="#9a78c0" stroke="#7a58a0"/>
<use href="#m_pe" transform="translate(1119,767.1) scale(1.6)" fill="#fff" stroke="#888"/>
<use href="#m_pe" transform="translate(1240,779.1) scale(1.6)" fill="#fff" stroke="#888"/>
<use href="#m_st" transform="translate(1119,753.7) scale(1.7)" fill="#9a7ac0" stroke="#7a5aa0"/>
<use href="#m_st" transform="translate(1240,770.1) scale(1.9)" fill="#9a7ac0" stroke="#7a5aa0"/>
</g>
<!-- legend -->
<g fill="none" stroke-width="1.3">
<path d="M1129.6,849.3h20M1186,849.3h20M1257,849.3h20" stroke="#333"/>
<path d="M1129.6,864.2h20M1186,864.2h20M1257,864.2h20" stroke="#888"/>
<path d="M1129.6,879.8h20M1186,879.8h20M1257,879.8h20" stroke="#a07070"/>
<path d="M1129.6,894.1h20M1186,894.1h20" stroke="#888"/>
</g>
<g stroke-width="1.2">
<use href="#m_sq" transform="translate(1138.6,849.3)" fill="#333" stroke="#111"/>
<use href="#m_ci" transform="translate(1197.1,849.3)" fill="#fff" stroke="#111"/>
<use href="#m_tu" transform="translate(1269.1,849.3)" fill="#5a9ac8" stroke="#3a7ab0"/>
<use href="#m_td" transform="translate(1138.6,864.2)" fill="#fff" stroke="#5a8ab8"/>
<use href="#m_di" transform="translate(1197.1,864.2)" fill="#4d82c4" stroke="#3a6aa8"/>
<use href="#m_tl" transform="translate(1269.1,864.2)" fill="#fff" stroke="#c07070"/>
<use href="#m_tr" transform="translate(1138.6,879.8)" fill="#d05a60" stroke="#b04048"/>
<use href="#m_hx" transform="translate(1197.1,879.8)" fill="#fff" stroke="#b07070"/>
<use href="#m_hx" transform="translate(1269.1,879.8)" fill="#9a78c0" stroke="#7a58a0"/>
<use href="#m_pe" transform="translate(1138.6,894.1)" fill="#fff" stroke="#888"/>
<use href="#m_st" transform="translate(1197.1,894.1)" fill="#9a7ac0" stroke="#7a5aa0"/>
</g>
<g font-size="12.5" fill="#555">
<text x="1152.1" y="853.6">9.3</text><text x="1213.6" y="853.6">9.7</text><text x="1285.6" y="853.6">10.3</text>
<text x="1152.1" y="868.5">10.9</text><text x="1213.6" y="868.5">11.4</text><text x="1285.6" y="868.5">11.9</text>
<text x="1152.1" y="884.1">12.1</text><text x="1213.6" y="884.1">12.7</text><text x="1285.6" y="884.1">13</text>
<text x="1152.1" y="898.4">13.8</text><text x="1213.6" y="898.4">14.2</text>
</g>
<!-- inset -->
<rect x="1375.5" y="674.6" width="136.5" height="104.4" fill="url(#gf)"/>
<g stroke-width="1">
<path d="M1390.7,688L1396.7,698.5" stroke="#222" stroke-width="3"/>
<use href="#m_sq" transform="translate(1390.7,704.4) scale(0.9)" fill="#777" stroke="#555"/>
<use href="#m_hx" transform="translate(1399.8,720.8) scale(0.9)" fill="none" stroke="#fff"/>
<path d="M1413.2,699.9V711.9" stroke="#6a8ab8" stroke-width="1.4"/>
<use href="#m_hx" transform="translate(1413.2,711.9) scale(0.9)" fill="#6a90c0" stroke="#5a80b0"/>
<path d="M1419,731L1428,739" stroke="#223" stroke-width="3"/>
<use href="#m_st" transform="translate(1435.6,753.6) scale(1.1)" fill="#4f86c0" stroke="#3f76b0"/>
<use href="#m_hx" transform="translate(1452.2,738.7) scale(1.1)" fill="#8a78a8" stroke="#6a5888"/>
<use href="#m_hx" transform="translate(1470.2,737.2) scale(1.1)" fill="#4f86c0" stroke="#3f76b0"/>
<use href="#m_hx" transform="translate(1485.1,759.6) scale(1.1)" fill="none" stroke="#345"/>
<path d="M1494.1,719.4V725.3" stroke="#5a80b0" stroke-width="1.4"/>
<use href="#m_st" transform="translate(1494.1,725.3) scale(1)" fill="#5a80b0" stroke="#4a70a0"/>
<path d="M1441.6,749.1L1486.6,750.6" stroke="#223" stroke-width="2.5" stroke-dasharray="8 3"/>
</g>
<text x="1396.8" y="762.5" text-anchor="middle" font-size="22" font-family="'Liberation Serif', serif" fill="#111">I</text>
<text x="1467.1" y="707" text-anchor="middle" font-size="22" font-family="'Liberation Serif', serif" fill="#111">II</text>
<rect x="1375.5" y="674.6" width="136.5" height="104.4" fill="none" stroke="#1a1a1a" stroke-width="2"/>
<path d="M1375.5,685h4M1375.5,725.3h4M1375.5,756.7h4M1407.1,779v-4M1448.9,779v-4M1491.1,779v-4" stroke="#1a1a1a" stroke-width="1.3" fill="none"/>
<g font-size="16" fill="#222" text-anchor="end"><text x="1373" y="690.5">3</text><text x="1373" y="730.8">2</text><text x="1373" y="762.2">1</text></g>
<g font-size="17" fill="#222" text-anchor="middle"><text x="1407.1" y="795">10</text><text x="1448.9" y="795">12</text><text x="1491.1" y="795">14</text>
<text x="1452" y="812">AH (g/m<tspan font-size="11" dy="-7">3</tspan><tspan dy="7">)</tspan></text></g>
<text transform="translate(1362,722.4) rotate(-90)" text-anchor="middle" font-size="16" fill="#222"><tspan font-style="italic">E</tspan><tspan font-size="11" dy="4">a</tspan><tspan dy="-4"> (eV)</tspan></text>
<!-- frame & axes -->
<g fill="none" stroke="#111">
<rect x="1105.8" y="674.6" width="406.2" height="236.7" stroke-width="2.5"/>
<path stroke-width="1.7" d="M1105.8,764h8M1105.8,849.2h8M1105.8,678.8h8M1156.9,911.3v-8M1322.4,911.3v-8M1487.9,911.3v-8M1212,911.3v-5M1267.2,911.3v-5M1377.6,911.3v-5M1432.7,911.3v-5"/>
<path stroke-width="1.3" d="M1105.8,908.8h4M1105.8,823.6h4M1105.8,808.6h4M1105.8,797.9h4M1105.8,789.6h4M1105.8,782.9h4M1105.8,777.2h4M1105.8,772.3h4M1105.8,767.9h4M1105.8,738.4h4M1105.8,723.4h4M1105.8,712.7h4M1105.8,704.4h4M1105.8,697.7h4M1105.8,692h4M1105.8,687.1h4M1105.8,682.7h4"/>
</g>
<g font-size="29" fill="#222" text-anchor="end">
<text x="1097" y="774.5">10<tspan dy="-13" font-size="17">-1</tspan></text>
<text x="1097" y="859.7">10<tspan dy="-13" font-size="17">-2</tspan></text>
</g>
<g font-size="28" fill="#222" text-anchor="middle">
<text x="1156.9" y="938">3.35</text><text x="1322.4" y="938">3.38</text><text x="1487.9" y="938">3.41</text>
</g>
<text x="1315.5" y="974" text-anchor="middle" font-size="30" fill="#222">1000/<tspan font-style="italic">T</tspan> (10<tspan font-size="18" dy="-12">3</tspan><tspan dy="12">/K)</tspan></text>
<text transform="translate(1039,786.5) rotate(-90)" text-anchor="middle" font-size="29" fill="#222"><tspan font-style="italic">r</tspan><tspan font-size="19" dy="6">1L</tspan><tspan dy="-6"> (μm/min)</tspan></text>
</g>
</svg>
</body></html>
